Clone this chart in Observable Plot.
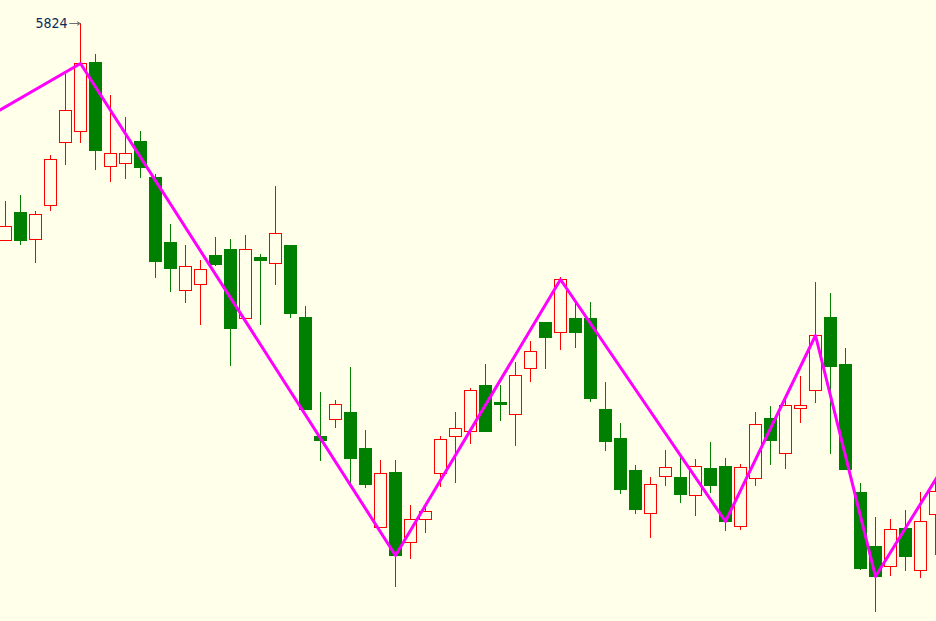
<!DOCTYPE html>
<html>
<head>
<meta charset="utf-8">
<script src="https://cdn.jsdelivr.net/npm/d3@7"></script>
<script src="https://cdn.jsdelivr.net/npm/@observablehq/plot@0.6"></script>
<style>
  html, body { margin: 0; padding: 0; background: #FFFFEA; overflow: hidden; }
  #chart svg { display: block; }
</style>
</head>
<body>
<div id="chart"></div>
<script>
// Candle OHLC prices (one per bar, left to right)
const open  = [5607,5635,5608,5642,5705,5716,5785,5681,5684,5706,5670,5605,5557,5563,5592,5598,5529,5590,5584,5602,5530,5411,5428,5435,5399,5320,5375,5305,5328,5374,5411,5416,5462,5445,5433,5479,5525,5515,5529,5529,5438,5409,5377,5334,5371,5370,5352,5379,5381,5321,5369,5429,5394,5439,5457,5530,5483,5355,5301,5281,5319,5277,5333];
const close = [5621,5607,5633,5688,5737,5784,5697,5694,5694,5680,5586,5579,5581,5578,5583,5519,5598,5587,5614,5534,5438,5407,5443,5389,5363,5374,5292,5328,5336,5408,5419,5457,5416,5443,5472,5496,5510,5568,5515,5449,5406,5358,5338,5363,5380,5353,5381,5362,5326,5380,5423,5407,5442,5442,5512,5481,5378,5279,5271,5318,5291,5326,5356];
const high  = [5646,5652,5636,5692,5773,5824,5793,5752,5730,5716,5673,5623,5602,5587,5610,5608,5612,5593,5661,5602,5541,5455,5447,5480,5417,5387,5387,5342,5340,5411,5435,5459,5483,5462,5485,5506,5525,5570,5544,5545,5465,5424,5382,5370,5397,5390,5388,5405,5389,5383,5435,5441,5448,5471,5565,5554,5499,5364,5330,5328,5337,5355,5365];
const low   = [5607,5602,5584,5636,5682,5704,5677,5665,5668,5669,5569,5555,5544,5522,5581,5481,5529,5522,5562,5529,5437,5386,5419,5364,5359,5320,5260,5288,5314,5360,5364,5403,5416,5426,5401,5465,5478,5497,5499,5445,5396,5353,5333,5309,5361,5344,5331,5354,5316,5317,5361,5382,5378,5424,5444,5393,5378,5277,5235,5271,5276,5269,5292];

// Zigzag pivots (bar index, price); first and last lie just outside the view
const zigIndex = [-1, 5, 26, 37, 48, 54, 58, 63];
const zigPrice = [5732, 5784, 5292, 5568, 5326, 5512, 5271, 5392];

// Marked extreme
const markIndex = 5;
const markLabel = "5824";

const BG = "#FFFFEA", UP = "#FF0000", DOWN = "#008000", ZZ = "#FF00FF";

const bars = open.map((o, i) => ({i, open: o, close: close[i], high: high[i], low: low[i], up: close[i] > o}));
const zig = zigIndex.map((i, k) => ({i, p: zigPrice[k]}));
const mark = [{i: markIndex, p: high[markIndex], label: markLabel}];

const W = 936, H = 621;
const chart = Plot.plot({
  width: W, height: H,
  margin: 0,
  style: {background: BG, overflow: "hidden"},
  x: {type: "linear", domain: [-1/3, -1/3 + W / 15], axis: null},
  y: {domain: [5226, 5847], axis: null},
  marks: [
    Plot.ruleX(bars, {x: "i", y1: "low", y2: "high", stroke: d => d.up ? UP : DOWN, strokeWidth: 1, shapeRendering: "crispEdges"}),
    Plot.rect(bars, {
      x1: d => d.i - 0.4, x2: d => d.i + 0.4,
      y1: "open", y2: "close",
      dx: 0.5, dy: 0.5,
      fill: d => d.up ? BG : DOWN,
      stroke: d => d.up ? UP : DOWN, strokeWidth: 1,
      shapeRendering: "crispEdges"
    }),
    Plot.line(zig, {x: "i", y: "p", stroke: ZZ, strokeWidth: 3, clip: true}),
    Plot.arrow(mark, {x1: d => d.i - 0.72, x2: d => d.i - 0.02, y1: "p", y2: "p", stroke: "#707070", strokeWidth: 1, headLength: 5}),
    Plot.text(mark, {x: "i", y: "p", text: "label", textAnchor: "end", dx: -13, fill: "#0B2A60",
      fontSize: 14, fontFamily: "'Liberation Sans Narrow', 'DejaVu Sans Condensed', 'Liberation Sans', sans-serif"})
  ]
});
document.getElementById("chart").appendChild(chart);
</script>
</body>
</html>
